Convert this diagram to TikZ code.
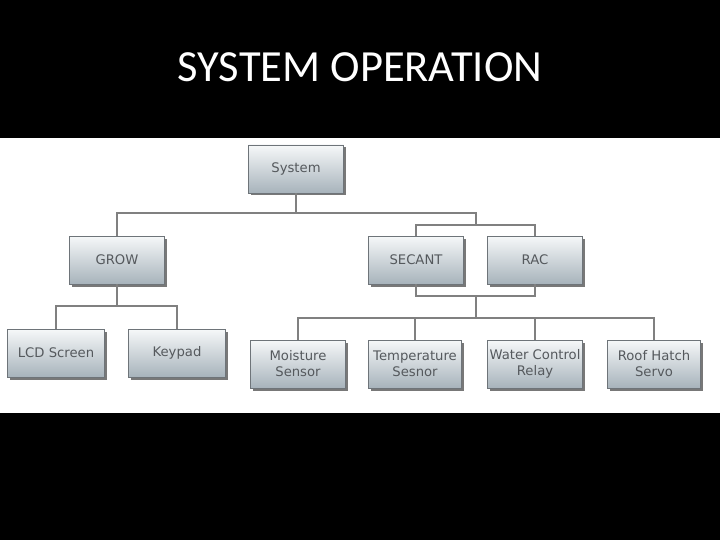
\documentclass[tikz,border=0pt]{standalone}
\usepackage{fontspec}
\setmainfont{DejaVu Sans}
\newfontfamily\titlefont{Carlito}
\usepackage{tikz}
\usetikzlibrary{positioning,shadows}
\definecolor{boxtop}{HTML}{F6F8F9}
\definecolor{boxbot}{HTML}{A7B3BB}
\definecolor{boxline}{HTML}{6E7479}
\definecolor{boxtext}{HTML}{55595D}
\definecolor{linkgray}{HTML}{808080}
\tikzset{
  unit/.style={rectangle, minimum width=95pt, minimum height=48pt, inner sep=1pt,
    top color=boxtop, bottom color=boxbot, draw=boxline, line width=0.6pt,
    drop shadow={shadow xshift=2.5pt, shadow yshift=-2.5pt, opacity=0.75, fill=black!70},
    text=boxtext, align=center, font=\fontsize{13.2}{16}\selectfont},
  link/.style={linkgray, line width=2.5pt}
}
\begin{document}
\begin{tikzpicture}[x=1pt,y=-1pt]
	\fill[black] (0,0) rectangle (720,540);
	\fill[white] (0,138) rectangle (720,413);
	\useasboundingbox (0,0) rectangle (720,540);
	\node[text=white, font=\titlefont\fontsize{44.5}{48}\selectfont] (title) at (360,67) {SYSTEM OPERATION};
	% top level
	\node[unit] (sys) at (296,169) {System};
	% second level
	\node[unit] (grow) at (117,260) {GROW};
	\node[unit] (secant) at (416,260) {SECANT};
	\node[unit] (rac) at (535,260) {RAC};
	% third level
	\node[unit, minimum width=97pt] (lcd) at (56,353) {LCD Screen};
	\node[unit, minimum width=97pt] (keypad) at (177,353) {Keypad};
	\node[unit] (moist) at (298,364) {Moisture\\Sensor};
	\node[unit, minimum width=93pt] (temp) at (415,364) {Temperature\\Sesnor};
	\node[unit] (water) at (535,364) {Water Control\\Relay};
	\node[unit, minimum width=93pt] (roof) at (654,364) {Roof Hatch\\Servo};
	% junctions
	\coordinate (j1) at (296,213);
	\coordinate (j2) at (476,225);
	\coordinate (j3) at (117,306);
	\coordinate (j4) at (476,296);
	\coordinate (j5) at (476,318);
	\draw[link] (sys.south) -- (j1);
	\draw[link] (grow.north) |- (j1) -| (j2);
	\draw[link] (secant.north) |- (j2) -| (rac.north);
	\draw[link] (grow.south) -- (j3);
	\draw[link] (lcd.north) |- (j3) -| (keypad.north);
	\draw[link] (secant.south) |- (j4) -| (rac.south);
	\draw[link] (j4) -- (j5);
	\draw[link] (moist.north) |- (j5) -| (roof.north);
	\draw[link] (temp.north) -- (temp.north |- j5);
	\draw[link] (water.north) -- (water.north |- j5);
\end{tikzpicture}
\end{document}
